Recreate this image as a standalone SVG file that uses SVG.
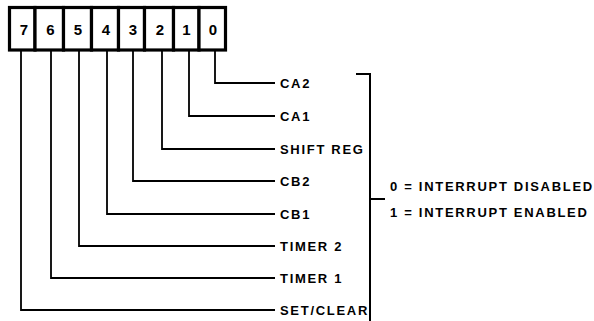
<svg xmlns="http://www.w3.org/2000/svg" width="594" height="321" viewBox="0 0 594 321">
  <style>
    .cell { fill: #fff; stroke: #000; stroke-width: 3.2; }
    .digit { font-family: "Liberation Sans", Arial, sans-serif; font-weight: bold; font-size: 15px; text-anchor: middle; fill: #000; }
    .lbl { font-family: "Liberation Sans", Arial, sans-serif; font-weight: bold; font-size: 13px; letter-spacing: 1.7px; fill: #000; }
    .wire { fill: none; stroke: #000; stroke-width: 1.8; }
    .brk { fill: none; stroke: #000; stroke-width: 2; }
  </style>
  <rect x="0" y="0" width="594" height="321" fill="#fff"/>

  <g id="register">
    <g id="bit7"><rect class="cell" x="9.5" y="7.5" width="25.5" height="42.5"/><text class="digit" x="24" y="35">7</text></g>
    <g id="bit6"><rect class="cell" x="35" y="7.5" width="28.5" height="42.5"/><text class="digit" x="50.5" y="35">6</text></g>
    <g id="bit5"><rect class="cell" x="63.5" y="7.5" width="28" height="42.5"/><text class="digit" x="78" y="35">5</text></g>
    <g id="bit4"><rect class="cell" x="91.5" y="7.5" width="27" height="42.5"/><text class="digit" x="106" y="35">4</text></g>
    <g id="bit3"><rect class="cell" x="118.5" y="7.5" width="26" height="42.5"/><text class="digit" x="133" y="35">3</text></g>
    <g id="bit2"><rect class="cell" x="144.5" y="7.5" width="29" height="42.5"/><text class="digit" x="160" y="35">2</text></g>
    <g id="bit1"><rect class="cell" x="173.5" y="7.5" width="25.5" height="42.5"/><text class="digit" x="186.5" y="35">1</text></g>
    <g id="bit0"><rect class="cell" x="199" y="7.5" width="26.5" height="42.5"/><text class="digit" x="213" y="35">0</text></g>
  </g>

  <g id="connectors">
    <path class="wire" d="M215 51 V83 H275"/>
    <path class="wire" d="M189 51 V116 H275"/>
    <path class="wire" d="M162 51 V149 H275"/>
    <path class="wire" d="M133 51 V181 H275"/>
    <path class="wire" d="M107 51 V214 H275"/>
    <path class="wire" d="M79 51 V246 H275"/>
    <path class="wire" d="M51 51 V278 H275"/>
    <path class="wire" d="M21 51 V310 H275"/>
  </g>

  <g id="labels">
    <text class="lbl" x="280" y="87.7">CA2</text>
    <text class="lbl" x="280" y="120.7">CA1</text>
    <text class="lbl" x="280" y="153.7">SHIFT REG</text>
    <text class="lbl" x="280" y="185.7">CB2</text>
    <text class="lbl" x="280" y="218.7">CB1</text>
    <text class="lbl" x="280" y="250.7">TIMER 2</text>
    <text class="lbl" x="280" y="282.7">TIMER 1</text>
    <text class="lbl" x="280" y="314.7">SET/CLEAR</text>
  </g>

  <g id="bracket">
    <path class="brk" d="M356 74 H370 V321"/>
    <path class="brk" d="M370 199 H385"/>
  </g>

  <g id="legend">
    <text class="lbl" x="390" y="191">0 = INTERRUPT DISABLED</text>
    <text class="lbl" x="390" y="217">1 = INTERRUPT ENABLED</text>
  </g>
</svg>
